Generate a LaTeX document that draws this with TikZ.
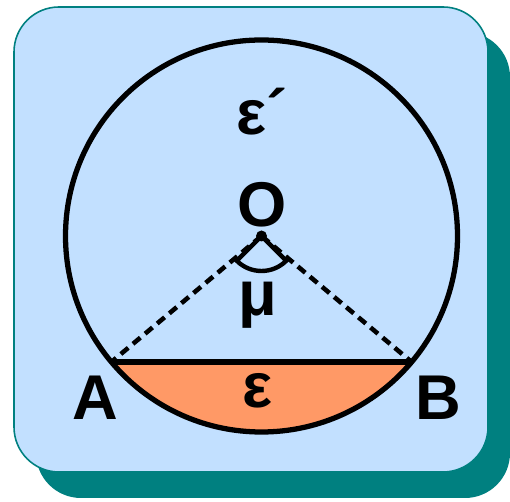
\documentclass[tikz,border=0pt]{standalone}
\usepackage{fontspec}
\usetikzlibrary{calc}
\setmainfont{Liberation Sans}
\definecolor{bgblue}{RGB}{194,224,255}
\definecolor{teal2}{RGB}{0,128,128}
\definecolor{segorange}{RGB}{255,153,102}
\tikzset{
  lbl/.style={font=\bfseries\fontsize{36}{36}\selectfont, inner sep=0pt},
  thick line/.style={line width=3pt, black},
  dash line/.style={line width=2.6pt, black, dash pattern=on 5.5pt off 3.5pt}
}
\begin{document}
\begin{tikzpicture}[x=0.02cm,y=-0.02cm]
\useasboundingbox (0,0) rectangle (510,502);
% shadow and panel
\fill[teal2, rounded corners=0.9cm] (36,32) rectangle (510,498);
\draw[teal2, fill=bgblue, line width=0.9pt, rounded corners=0.9cm] (14,7) rectangle (488,472);
% geometry
\coordinate (O) at (261.5,236);
\coordinate (A) at ($(O)+(140:196)$);
\coordinate (B) at ($(O)+(40:196)$);
% segment
\fill[segorange] (A) arc[start angle=140, end angle=40, radius=196] -- cycle;
\draw[thick line] (O) circle[radius=196];
\draw[thick line] (A) -- (B);
\draw[dash line] (O) -- (A);
\draw[dash line] (O) -- (B);
\draw[line width=2.5pt] (O) -- ($(O)+(135:35)$) arc[start angle=135, end angle=45, radius=35] -- cycle;
\fill (O) circle[radius=5.5];
% labels
\node[lbl] (lO) at (262,205) {O};
\node[lbl] (lep) at (262,112) {ε´};
\node[lbl] (lmu) at (258,305) {μ};
\node[lbl] (leps) at (258,391) {ε};
\node[lbl] (lA) at (95,398) {A};
\node[lbl] (lB) at (438,398) {B};
\end{tikzpicture}
\end{document}
